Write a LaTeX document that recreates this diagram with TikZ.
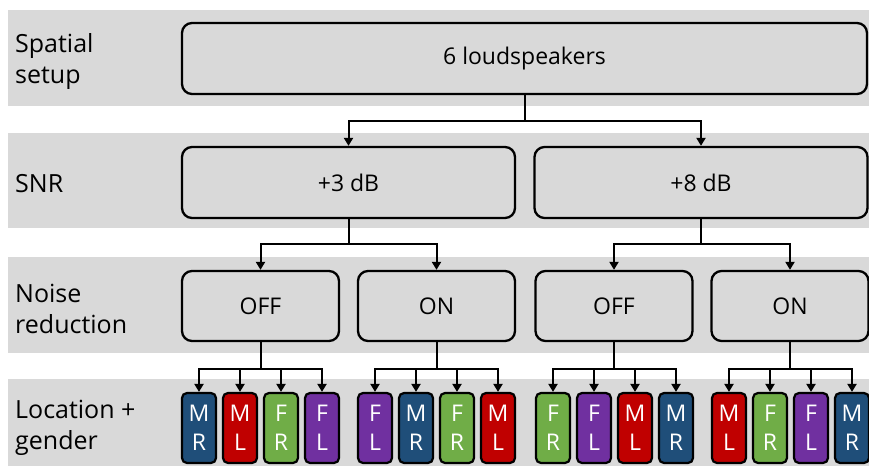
\documentclass[tikz,border=0pt]{standalone}
\usepackage{fontspec}
\setmainfont{Open Sans}
\usetikzlibrary{arrows.meta}
\definecolor{bandgray}{HTML}{D9D9D9}
\definecolor{cblue}{HTML}{1F4E79}
\definecolor{cred}{HTML}{C00000}
\definecolor{cgreen}{HTML}{70AD47}
\definecolor{cpurple}{HTML}{7030A0}
\tikzset{
  band/.style={fill=bandgray, draw=none},
  bigbox/.style={draw=black, line width=2.3pt, fill=bandgray, rounded corners=10pt,
    inner sep=0pt, font=\fontsize{23}{27}\selectfont},
  lbl/.style={anchor=west, align=left, inner sep=0pt, font=\fontsize{25}{31}\selectfont},
  sbox/.style={draw=black, line width=2.2pt, rounded corners=5pt, minimum width=34pt,
    minimum height=70pt, inner sep=0pt, text=white, align=center,
    font=\fontsize{23}{29}\selectfont},
  conn/.style={line width=2pt},
  arr/.style={line width=2pt, -{Triangle[width=9pt,length=8pt]}},
}
\begin{document}
\begin{tikzpicture}[x=1pt,y=-1pt]
\useasboundingbox (0,0) rectangle (869,466);
% bands
\fill[band] (8,10) rectangle (869,106);
\fill[band] (8,133) rectangle (869,228);
\fill[band] (8,257) rectangle (869,353);
\fill[band] (8,379) rectangle (869,466);
% labels
\node[lbl] (l1) at (15,62) {Spatial\\setup};
\node[lbl] (l2) at (15,184) {SNR};
\node[lbl] (l3) at (15,309) {Noise\\reduction};
\node[lbl] (l4) at (15,428) {Location +\\gender};
% big boxes
\node[bigbox, minimum width=685pt, minimum height=71pt] (top) at (524.5,58.5) {6 loudspeakers};
\node[bigbox, minimum width=333pt, minimum height=71pt] (s3) at (348.5,182.5) {+3 dB};
\node[bigbox, minimum width=333pt, minimum height=71pt] (s8) at (701,182.5) {+8 dB};
\node[bigbox, minimum width=157pt, minimum height=70pt] (n1) at (260.5,306) {OFF};
\node[bigbox, minimum width=157pt, minimum height=70pt] (n2) at (436.5,306) {ON};
\node[bigbox, minimum width=157pt, minimum height=70pt] (n3) at (614,306) {OFF};
\node[bigbox, minimum width=157pt, minimum height=70pt] (n4) at (790,306) {ON};
% small boxes
\node[sbox, fill=cblue]   (b11) at (199,428) {M\\R};
\node[sbox, fill=cred]    (b12) at (240,428) {M\\L};
\node[sbox, fill=cgreen]  (b13) at (281,428) {F\\R};
\node[sbox, fill=cpurple] (b14) at (322,428) {F\\L};
\node[sbox, fill=cpurple] (b21) at (375,428) {F\\L};
\node[sbox, fill=cblue]   (b22) at (416,428) {M\\R};
\node[sbox, fill=cgreen]  (b23) at (457,428) {F\\R};
\node[sbox, fill=cred]    (b24) at (498,428) {M\\L};
\node[sbox, fill=cgreen]  (b31) at (553,428) {F\\R};
\node[sbox, fill=cpurple] (b32) at (594,428) {F\\L};
\node[sbox, fill=cred]    (b33) at (635,428) {M\\L};
\node[sbox, fill=cblue]   (b34) at (676,428) {M\\R};
\node[sbox, fill=cred]    (b41) at (729,428) {M\\L};
\node[sbox, fill=cgreen]  (b42) at (770,428) {F\\R};
\node[sbox, fill=cpurple] (b43) at (811,428) {F\\L};
\node[sbox, fill=cblue]   (b44) at (852,428) {M\\R};
% connectors
\coordinate (jt) at (524.5,121);
\draw[conn] (top.south) -- (jt);
\draw[arr] (jt) -| (s3.north);
\draw[arr] (jt) -| (s8.north);
\coordinate (j3) at (348.5,244);
\draw[conn] (s3.south) -- (j3);
\draw[arr] (j3) -| (n1.north);
\draw[arr] (j3) -| (n2.north);
\coordinate (j8) at (701,244);
\draw[conn] (s8.south) -- (j8);
\draw[arr] (j8) -| (n3.north);
\draw[arr] (j8) -| (n4.north);
\foreach \g/\x in {1/260.5,2/436.5,3/614,4/790}{
  \coordinate (jn\g) at (\x,369);
  \draw[conn] (n\g.south) -- (jn\g);
  \foreach \k in {1,...,4}{
    \draw[arr] (jn\g) -| (b\g\k.north);
  }
}
\end{tikzpicture}
\end{document}
